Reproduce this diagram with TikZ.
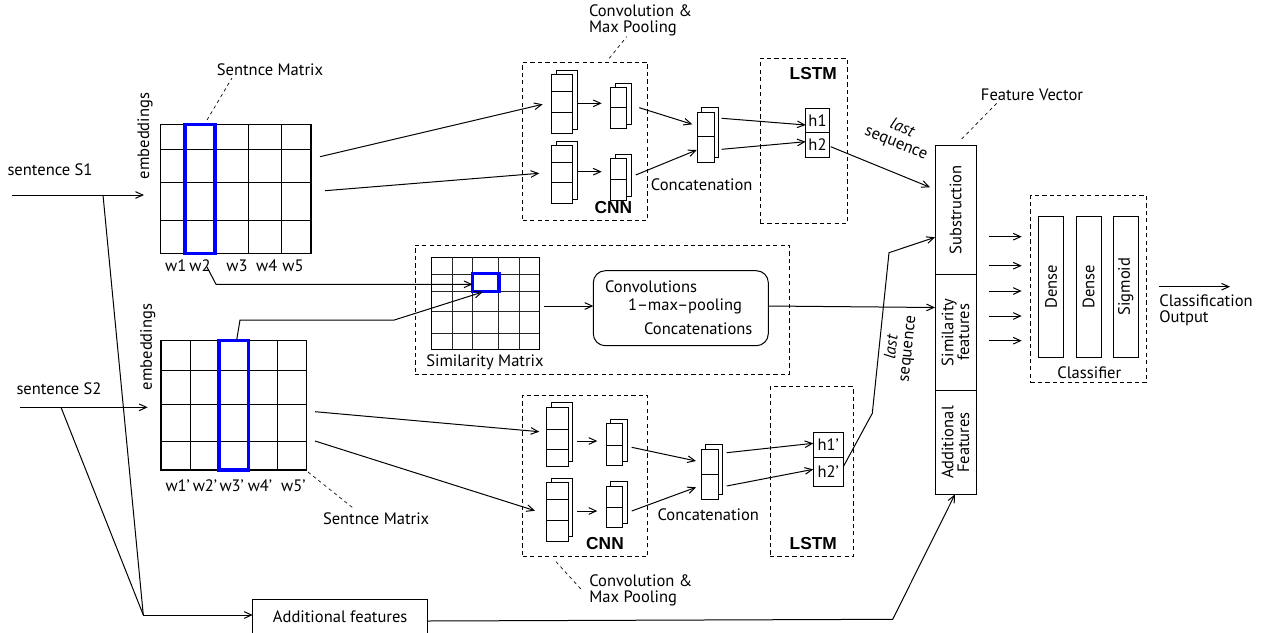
\documentclass[tikz,border=0pt]{standalone}
\usepackage{fontspec}
\setmainfont{PT Sans}
\newfontfamily\bfam{Liberation Sans}
\usetikzlibrary{fit,arrows.meta}
\begin{document}
\begin{tikzpicture}[x=0.75pt,y=-0.75pt,
  font=\fontsize{12.4}{11.8}\selectfont,
  line width=0.75pt,
  >={Straight Barb[length=5.5pt,width=5pt]},
  box/.style={draw, inner sep=0pt, outer sep=0pt},
  wbox/.style={draw, fill=white, inner sep=0pt, outer sep=0pt},
  dbox/.style={draw, dash pattern=on 3.2pt off 2.4pt, inner sep=0pt, outer sep=0pt},
  lead/.style={dash pattern=on 2.5pt off 2.5pt, line width=0.5pt},
  blu/.style={draw=blue, line width=2.3pt, inner sep=0pt, outer sep=0pt},
  gridl/.style={line width=0.75pt},
  sgrid/.style={line width=0.5pt, black!85},
  txt/.style={inner sep=0pt, outer sep=0pt},
  bld/.style={txt, font=\bfam\bfseries\fontsize{13}{13}\selectfont},
  ml/.style={txt, align=left},
]
\useasboundingbox (0,0) rectangle (1266,632);

% ---------------- sentence matrix S1
\node[box, line width=1.1pt, fit={(160.7,124.3) (311,253.3)}] (m1) {};
\foreach \x in {185,215,248.3,281.7} \draw[gridl] (\x,124.3) -- (\x,253.3);
\foreach \y in {149.3,182.7,220} \draw[gridl] (160.7,\y) -- (311,\y);
\node[blu, fit={(185,124.3) (215,253.3)}] (m1c) {};
\node[txt] (w11) at (175.7,266) {w1};
\node[txt] (w12) at (200,266) {w2};
\node[txt] (w13) at (237,266) {w3};
\node[txt] (w14) at (266.7,266) {w4};
\node[txt] (w15) at (293,266) {w5};
\node[txt, rotate=90] (emb1) at (145,136) {embeddings};
\node[txt] (sm1) at (270,70) {Sentnce Matrix};
\coordinate (sm1a) at (207,120);
\coordinate (sm1b) at (232,78);
\draw[lead] (sm1a) -- (sm1b);

% ---------------- sentence matrix S2
\node[box, line width=1.1pt, fit={(161,340.7) (306.7,470)}] (m2) {};
\foreach \x in {190.3,219,248.3,277.7} \draw[gridl] (\x,340.7) -- (\x,470);
\foreach \y in {370,404,441} \draw[gridl] (161,\y) -- (306.7,\y);
\node[blu, fit={(219,340.7) (248.3,470)}] (m2c) {};
\node[txt] (w21) at (177.7,486) {w1'};
\node[txt] (w22) at (205,486) {w2'};
\node[txt] (w23) at (231.7,486) {w3'};
\node[txt] (w24) at (260,486) {w4'};
\node[txt] (w25) at (293.3,486) {w5'};
\node[txt, rotate=90] (emb2) at (147.7,347) {embeddings};
\node[txt, anchor=west] (sm2) at (323,519) {Sentnce Matrix};
\coordinate (sm2a) at (308,472);
\coordinate (sm2b) at (353,508);
\draw[lead] (sm2a) -- (sm2b);

% ---------------- inputs
\node[txt] (ls1) at (50,170) {sentence S1};
\node[txt] (ls2) at (59,389) {sentence S2};
\node[box, minimum width=131.25pt, minimum height=26pt, anchor=north west] (add) at (252.7,599) {Additional features};
\coordinate (s1a) at (11.7,195);
\coordinate (s1b) at (103,195);
\coordinate (s1c) at (144,195);
\coordinate (s2a) at (20,407.3);
\coordinate (s2b) at (61,407.3);
\coordinate (s2c) at (147.7,407.3);
\coordinate (jn) at (143.3,615);
\coordinate (addin) at (252.7,615);
\draw[->] (s1a) -- (s1c);
\draw[->] (s2a) -- (s2c);
\draw (s1b) -- (jn);
\draw (s2b) -- (jn);
\draw[->] (jn) -- (addin);

% ---------------- top CNN
\node[dbox, fit={(522.7,62.3) (647.7,220)}] (cnn1) {};
\node[bld] (cnn1t) at (613.3,208) {CNN};
\node[ml, anchor=west] (cmp1) at (589,20) {Convolution \&\\Max Pooling};
\coordinate (cmp1a) at (609.3,58.3);
\coordinate (cmp1b) at (626.7,36.7);
\draw[lead] (cmp1a) -- (cmp1b);
% big blocks
\draw[fill=white] (556.3,70) rectangle (577.3,129.3);
\node[wbox, fit={(551.7,74) (572.7,133.3)}] (tb1) {};
\draw (551.7,91) -- (572.7,91) (551.7,112.7) -- (572.7,112.7);
\draw[fill=white] (556.3,141) rectangle (577.3,199.3);
\node[wbox, fit={(551.7,145) (572.7,203.3)}] (tb2) {};
\draw (551.7,162.3) -- (572.7,162.3) (551.7,182.7) -- (572.7,182.7);
% small blocks
\draw[fill=white] (615,83.3) rectangle (631.7,124.3);
\node[wbox, fit={(610,87.3) (626.7,128.3)}] (ts1) {};
\draw (610,107.7) -- (626.7,107.7);
\draw[fill=white] (615,154.3) rectangle (631.7,196);
\node[wbox, fit={(610,158.3) (626.7,200)}] (ts2) {};
\draw (610,179.3) -- (626.7,179.3);
% concat block
\draw[fill=white] (701.7,107.7) rectangle (718.7,157.7);
\node[wbox, fit={(697.3,112.3) (714.3,162.3)}] (tc) {};
\draw (697.3,136.7) -- (714.3,136.7);
\node[txt] (tcl) at (701.7,185) {Concatenation};

% ---------------- top LSTM
\node[dbox, fit={(760,58.3) (847.3,223.3)}] (lstm1) {};
\node[bld] (lstm1t) at (813.3,73.5) {LSTM};
\node[box, fit={(805.7,108.3) (829.3,132.3)}] (h1) {};
\node[box, fit={(805.7,132.3) (829.3,157.3)}] (h2) {};
\node[txt] at (h1.center) {h1};
\node[txt] at (h2.center) {h2};

% top connectors
\coordinate (a1s) at (320,156.7);  \coordinate (a1e) at (542.7,104.3);
\coordinate (a2s) at (325,190.7);  \coordinate (a2e) at (539.3,173.3);
\draw[->] (a1s) -- (a1e);
\draw[->] (a2s) -- (a2e);
\coordinate (b1s) at (577.3,103.3); \coordinate (b1e) at (601.7,103.3);
\coordinate (b2s) at (578,171.7);   \coordinate (b2e) at (601.7,171.7);
\draw[->] (b1s) -- (b1e);
\draw[->] (b2s) -- (b2e);
\coordinate (c1s) at (639.3,107.7); \coordinate (c1e) at (692.3,124.3);
\coordinate (c2s) at (635.7,175);   \coordinate (c2e) at (696.7,150);
\draw[->] (c1s) -- (c1e);
\draw[->] (c2s) -- (c2e);
\coordinate (d1s) at (721.7,118.3); \coordinate (d1e) at (805.7,125);
\coordinate (d2s) at (721.7,149.3); \coordinate (d2e) at (805.7,141.7);
\draw[->] (d1s) -- (d1e);
\draw[->] (d2s) -- (d2e);

% ---------------- bottom CNN
\node[dbox, fit={(522.7,395) (647.7,556.7)}] (cnn2) {};
\node[bld] (cnn2t) at (605,543.5) {CNN};
\node[ml, anchor=west] (cmp2) at (589.3,590) {Convolution \&\\Max Pooling};
\coordinate (cmp2a) at (556,561.7);
\coordinate (cmp2b) at (581.7,590);
\draw[lead] (cmp2a) -- (cmp2b);
\draw[fill=white] (551,402.7) rectangle (572.7,461.4);
\node[wbox, fit={(546.7,407.3) (568.3,466)}] (bb1) {};
\draw (546.7,429) -- (568.3,429) (546.7,449.3) -- (568.3,449.3);
\draw[fill=white] (551,478.3) rectangle (572.7,536.6);
\node[wbox, fit={(546.7,482.7) (568.3,541)}] (bb2) {};
\draw (546.7,499) -- (568.3,499) (546.7,520) -- (568.3,520);
\draw[fill=white] (610.6,419.3) rectangle (627.3,461.7);
\node[wbox, fit={(606,423.3) (622.7,465.7)}] (bs1) {};
\draw (606,445) -- (622.7,445);
\draw[fill=white] (610.6,481.7) rectangle (627.3,523.4);
\node[wbox, fit={(606,486) (622.7,527.7)}] (bs2) {};
\draw (606,507.7) -- (622.7,507.7);
\draw[fill=white] (705.4,444.3) rectangle (722.7,494);
\node[wbox, fit={(701,449.3) (718.3,499)}] (bc) {};
\draw (701,474.3) -- (718.3,474.3);
\node[txt] (bcl) at (708.3,515) {Concatenation};

% ---------------- bottom LSTM
\node[dbox, fit={(770,386.7) (853.3,556.7)}] (lstm2) {};
\node[bld] (lstm2t) at (813.3,543.5) {LSTM};
\node[box, fit={(813.3,432.7) (843.3,457.3)}] (h1p) {};
\node[box, fit={(813.3,457.3) (843.3,486.7)}] (h2p) {};
\node[txt] at (h1p.center) {h1'};
\node[txt] at (h2p.center) {h2'};

% bottom connectors
\coordinate (e1s) at (315,411.7); \coordinate (e1e) at (539.3,431.7);
\coordinate (e2s) at (315,441);   \coordinate (e2e) at (535,510.7);
\draw[->] (e1s) -- (e1e);
\draw[->] (e2s) -- (e2e);
\coordinate (f1s) at (577.3,441); \coordinate (f1e) at (597.3,441);
\coordinate (f2s) at (577.3,511); \coordinate (f2e) at (597.3,511);
\draw[->] (f1s) -- (f1e);
\draw[->] (f2s) -- (f2e);
\coordinate (g1s) at (631.7,447.3); \coordinate (g1e) at (696,461);
\coordinate (g2s) at (631.7,511);   \coordinate (g2e) at (696,487.3);
\draw[->] (g1s) -- (g1e);
\draw[->] (g2s) -- (g2e);
\coordinate (k1s) at (726.7,452.7); \coordinate (k1e) at (813.3,443.3);
\coordinate (k2s) at (726.7,486);   \coordinate (k2e) at (813.3,469.3);
\draw[->] (k1s) -- (k1e);
\draw[->] (k2s) -- (k2e);

% ---------------- similarity block
\node[dbox, fit={(415,245) (789.3,374)}] (simbox) {};
\node[box, fit={(431.7,257.3) (539.3,349)}] (sim) {};
\foreach \x in {452.7,472.7,498.7,519} \draw[sgrid] (\x,257.3) -- (\x,349);
\foreach \y in {274.3,291,311.7,333.3} \draw[sgrid] (431.7,\y) -- (539.3,\y);
\node[blu, fit={(472.5,273.5) (499,291.5)}] (simc) {};
\node[txt] (siml) at (485,362) {Similarity Matrix};
\node[box, rounded corners=9pt, fit={(593.3,270.7) (768.3,345.7)}] (conv) {};
\node[txt, anchor=west] at (605,287) {Convolutions};
\node[txt, anchor=west] at (628,306.5) {1--max--pooling};
\node[txt, anchor=west] at (644,329) {Concatenations};
\coordinate (p1a) at (207,267);
\coordinate (p1b) at (216,284.3);
\coordinate (p1c) at (472.5,284.3);
\draw[->] (p1a) -- (p1b) -- (p1c);
\coordinate (p2a) at (236.7,340);
\coordinate (p2b) at (240,320);
\coordinate (p2c) at (394.3,320);
\coordinate (p2d) at (482.7,292);
\draw[->] (p2a) -- (p2b) -- (p2c) -- (p2d);
\coordinate (q1s) at (544,306);
\draw[->] (q1s) -- (conv.west |- q1s);

% ---------------- feature vector
\node[box, fit={(935,145.7) (976,274)}] (fsub) {};
\node[box, fit={(935,274) (976,390.7)}] (fsim) {};
\node[box, fit={(935,390.7) (976,494.3)}] (fadd) {};
\node[txt, rotate=90] at (fsub.center) {Substruction};
\node[txt, rotate=90, align=center] at (fsim.center) {Similarity\\features};
\node[txt, rotate=90, align=center] at (fadd.center) {Additional\\Features};
\node[txt] (fvl) at (1032,95) {Feature Vector};
\coordinate (fva) at (961.7,139);
\coordinate (fvb) at (996.7,103.3);
\draw[lead] (fva) -- (fvb);

% connectors into feature vector
\coordinate (r1e) at (935,307.5);
\draw[->] (conv.east |- 0,306) -- (r1e);
\coordinate (t1s) at (830.7,146.7);
\coordinate (t1e) at (930,187.3);
\draw[->] (t1s) -- (t1e);
\node[txt, rotate=-22, align=center] (ls1l) at (899,136) {\itshape last\\sequence};
\coordinate (t2s) at (843.3,466.7);
\coordinate (t2a) at (872.3,413.3);
\coordinate (t2b) at (889,252.7);
\coordinate (t2e) at (935,237.3);
\draw[->] (t2s) -- (t2a) -- (t2b) -- (t2e);
\node[txt, rotate=84, align=center] (ls2l) at (900,348) {\itshape last\\sequence};
\coordinate (u1s) at (427.7,621);
\coordinate (u1a) at (892.7,619.3);
\coordinate (u1e) at (955,494.3);
\draw[->] (u1s) -- (u1a) -- (u1e);

% ---------------- classifier
\node[dbox, fit={(1030.3,195.7) (1146.7,382.3)}] (cls) {};
\node[box, fit={(1038.7,216) (1063.3,357.3)}] (dn1) {};
\node[box, fit={(1076,216) (1101,357.3)}] (dn2) {};
\node[box, fit={(1113.3,216) (1138.3,357.3)}] (sg) {};
\node[txt, rotate=90] at (dn1.center) {Dense};
\node[txt, rotate=90] at (dn2.center) {Dense};
\node[txt, rotate=90] at (sg.center) {Sigmoid};
\node[txt] (clsl) at (1089.3,373) {Classifier};
\foreach \y [count=\i] in {236.7,265.7,291,316,340.7} {
  \coordinate (v\i s) at (989.3,\y);
  \coordinate (v\i e) at (1021.7,\y);
  \draw[->] (v\i s) -- (v\i e);
}
\coordinate (os) at (1159.3,286.7);
\coordinate (oe) at (1230,286.7);
\draw[->] (os) -- (oe);
\node[ml, anchor=west] (outl) at (1159.3,310) {Classification\\Output};
\end{tikzpicture}
\end{document}
